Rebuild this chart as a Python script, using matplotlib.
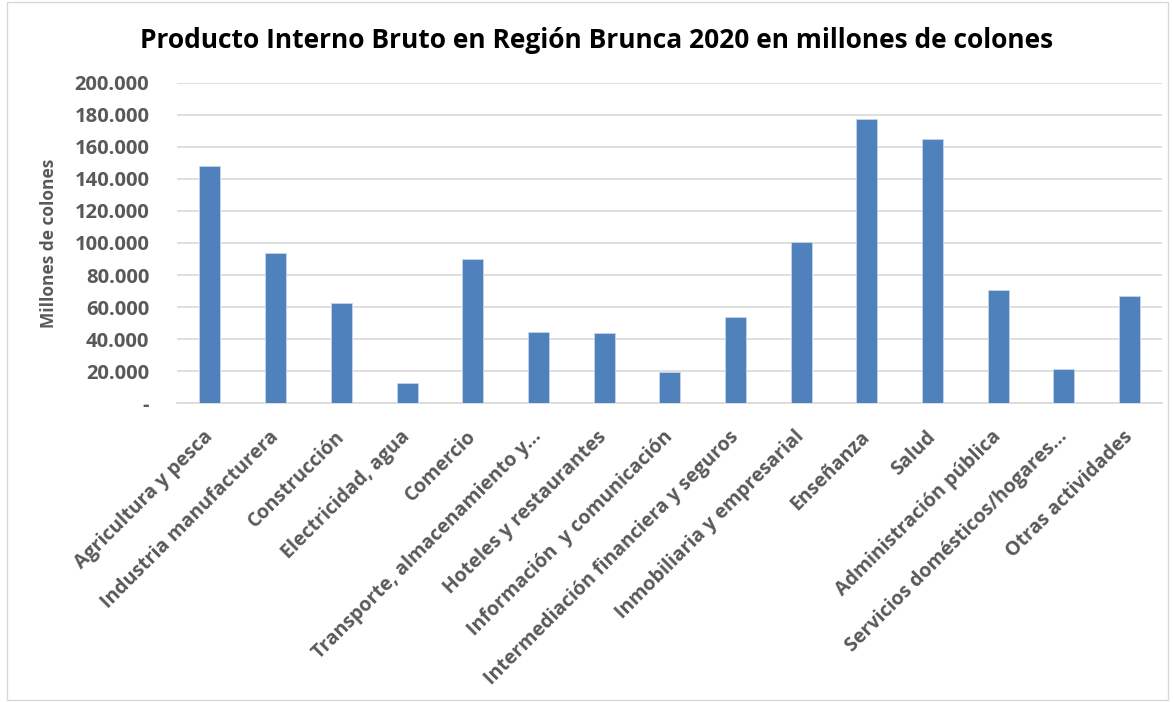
#!/usr/bin/env python3
import matplotlib
matplotlib.use('Agg')
import matplotlib.pyplot as plt
from matplotlib.ticker import FuncFormatter, MultipleLocator
from matplotlib.patches import Rectangle

SECTORES = [
    'Agricultura y pesca',
    'Industria manufacturera',
    'Construcción',
    'Electricidad, agua',
    'Comercio',
    'Transporte, almacenamiento y...',
    'Hoteles y restaurantes',
    'Información  y comunicación',
    'Intermediación financiera y seguros',
    'Inmobiliaria y empresarial',
    'Enseñanza',
    'Salud',
    'Administración pública',
    'Servicios domésticos/hogares...',
    'Otras actividades',
]
PIB = [148000, 93600, 62400, 12900, 89800, 44700, 44100, 19700,
       53800, 100400, 177400, 165100, 70500, 21400, 66700]

TITULO = 'Producto Interno Bruto en Región Brunca 2020 en millones de colones'
EJE_Y = 'Millones de colones'

GRIS = '#595959'
AZUL = '#4f81bd'
FUENTE = ['Open Sans', 'DejaVu Sans']


def miles(v, _pos):
    if v == 0:
        return '-'
    return f'{int(v):,}'.replace(',', '.')


def main():
    plt.rcParams['font.family'] = FUENTE
    fig = plt.figure(figsize=(11.73, 7.02), dpi=100)
    ax = fig.add_axes([0.151, 0.4255, 0.840, 0.4567])

    x = range(len(SECTORES))
    ax.bar(x, PIB, width=0.32, color=AZUL, edgecolor='#c5d5ea', linewidth=0.6, zorder=3)

    ax.set_xlim(-0.5, len(SECTORES) - 0.5)
    ax.set_ylim(0, 200000)
    ax.yaxis.set_major_locator(MultipleLocator(20000))
    ax.yaxis.set_major_formatter(FuncFormatter(miles))
    ax.grid(axis='y', color='#d9d9d9', linewidth=1.2, zorder=0)
    for side in ('top', 'right', 'left'):
        ax.spines[side].set_visible(False)
    ax.spines['bottom'].set_color('#d9d9d9')
    ax.spines['bottom'].set_linewidth(1.2)
    ax.tick_params(axis='both', length=0, colors=GRIS)
    ax.tick_params(axis='y', pad=20)
    ax.tick_params(axis='x', pad=22)

    ax.set_xticks(list(x))
    ax.set_xticklabels(SECTORES, rotation=45, ha='right', va='center',
                       rotation_mode='anchor', fontsize=14, fontweight='bold', color=GRIS)
    for lbl in ax.get_yticklabels():
        lbl.set_fontsize(14.5)
        lbl.set_fontweight('bold')

    ax.set_ylabel(EJE_Y, fontsize=12.5, fontweight='bold', color=GRIS, labelpad=12)
    fig.text(0.509, 0.943, TITULO, ha='center', va='center',
             fontsize=19, fontweight='bold', color='black')

    fig.patches.append(Rectangle((0.006, 0.003), 0.99, 0.994, transform=fig.transFigure,
                                 fill=False, edgecolor='#d9d9d9', linewidth=1))

    fig.savefig('out.png', dpi=100)


if __name__ == '__main__':
    main()
